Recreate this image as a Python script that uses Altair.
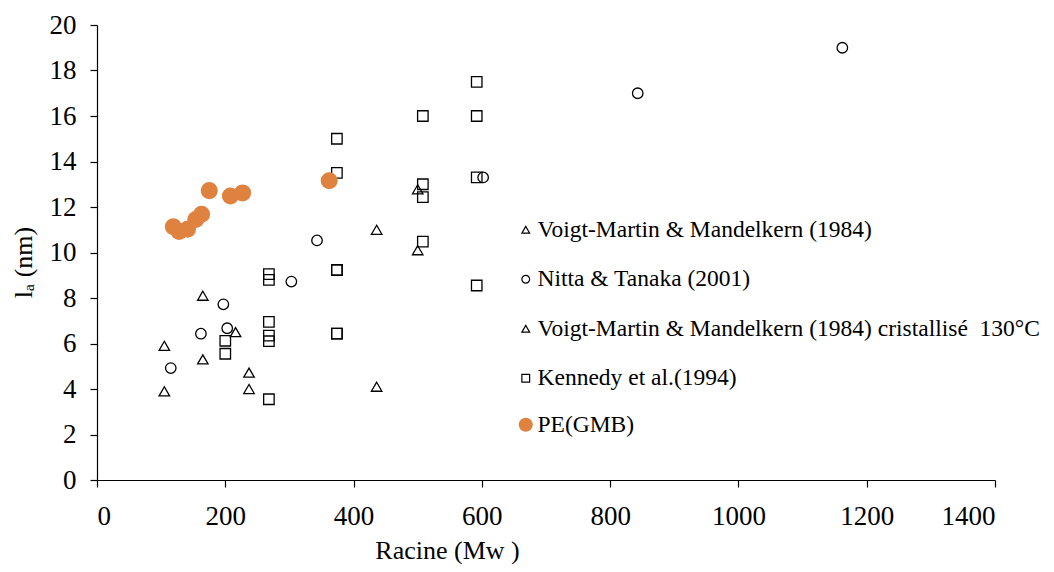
import altair as alt
import pandas as pd

S1 = "Voigt-Martin & Mandelkern (1984)"
S2 = "Nitta & Tanaka (2001)"
S3 = "Voigt-Martin & Mandelkern (1984) cristallisé\u00a0 130°C"
S4 = "Kennedy et al.(1994)"
S5 = "PE(GMB)"

vm_x = [105, 105, 165, 165, 216, 237, 237]
vm_y = [5.9, 3.9, 8.1, 5.3, 6.5, 4.72, 4.0]

nitta_x = [115, 162, 197, 203, 303, 343, 602, 843, 1162]
nitta_y = [4.92, 6.43, 7.72, 6.67, 8.72, 10.53, 13.3, 17.0, 19.0]

vm130_x = [436, 436, 500, 500]
vm130_y = [11.0, 4.1, 12.78, 10.1]

ken_x = [200, 200, 268, 268, 268, 268, 268, 268, 374, 374, 374, 374, 374, 374,
         508, 508, 508, 508, 592, 592, 592, 592]
ken_y = [6.12, 5.55, 9.05, 8.8, 6.95, 6.35, 6.1, 3.55, 15.0, 13.5, 9.23, 9.23, 6.43, 6.43,
         16.0, 13.0, 12.43, 10.48, 17.5, 16.0, 13.3, 8.55]

pe_x = [119, 128, 141, 154, 163, 175, 208, 227, 362]
pe_y = [11.13, 10.92, 11.02, 11.45, 11.68, 12.72, 12.48, 12.62, 13.15]

open_series = [S1, S2, S3, S4]
rows = []
for name, xs, ys in [(S1, vm_x, vm_y), (S2, nitta_x, nitta_y), (S3, vm130_x, vm130_y),
                     (S4, ken_x, ken_y)]:
    for a, b in zip(xs, ys):
        rows.append({"Mw": a, "la": b, "serie": name})
df_open = pd.DataFrame(rows)
df_pe = pd.DataFrame({"Mw": pe_x, "la": pe_y, "serie": [S5] * len(pe_x)})

ORANGE = "#DF8240"
FONT = "Liberation Serif"

x_enc = alt.X("Mw:Q", scale=alt.Scale(domain=[0, 1400], nice=False),
              axis=alt.Axis(values=list(range(0, 1401, 200)), format="d", title="Racine (Mw )",
                            titleX=350, titleY=70, titleAlign="center", titleBaseline="middle"))
y_enc = alt.Y("la:Q", scale=alt.Scale(domain=[0, 20], nice=False),
              axis=alt.Axis(values=list(range(0, 21, 2)), format="d", title="lₐ (nm)",
                            titleX=-74, titleY=237, titleAlign="center", titleBaseline="middle"))

open_layer = alt.Chart(df_open).mark_point(
    strokeWidth=1.3, opacity=1, size=110, color="black", filled=False
).encode(
    x=x_enc, y=y_enc,
    shape=alt.Shape("serie:N",
                    scale=alt.Scale(domain=open_series,
                                    range=["triangle-up", "circle", "triangle-up", "square"]),
                    legend=alt.Legend(title=None, orient="none", legendX=417, legendY=193,
                                      labelFont=FONT, labelFontSize=23.5, labelColor="black",
                                      labelLimit=0, rowPadding=24.5, labelOffset=0,
                                      symbolSize=60, symbolStrokeWidth=1.2,
                                      symbolStrokeColor="black", symbolFillColor="transparent")),
)

pe_layer = alt.Chart(df_pe).mark_circle(size=290, opacity=1, color=ORANGE).encode(
    x="Mw:Q", y="la:Q",
    fill=alt.Fill("serie:N", scale=alt.Scale(domain=[S5], range=[ORANGE]),
                  legend=alt.Legend(title=None, orient="none", legendX=417, legendY=388,
                                    labelFont=FONT, labelFontSize=23.5, labelColor="black",
                                    labelLimit=0, labelOffset=0, symbolType="circle",
                                    symbolSize=200, symbolStrokeWidth=0, symbolOpacity=1)),
)

chart = alt.layer(open_layer, pe_layer).resolve_scale(
    shape="independent", fill="independent"
).properties(
    width=898, height=455,
    autosize=alt.AutoSizeParams(type="none"),
    padding={"left": 89, "top": 17, "right": 51, "bottom": 84},
).configure_view(stroke=None).configure_axis(
    grid=False, domainColor="black", tickColor="black", domainWidth=1.2, tickWidth=1.2,
    tickSize=7, labelFont=FONT, labelFontSize=27, labelColor="black",
    titleFont=FONT, titleFontSize=26, titleFontWeight="normal", titleColor="black",
).configure_axisX(labelPadding=16).configure_axisY(labelPadding=14)

chart.save("out.html", embed_options={"renderer": "svg", "actions": False})
